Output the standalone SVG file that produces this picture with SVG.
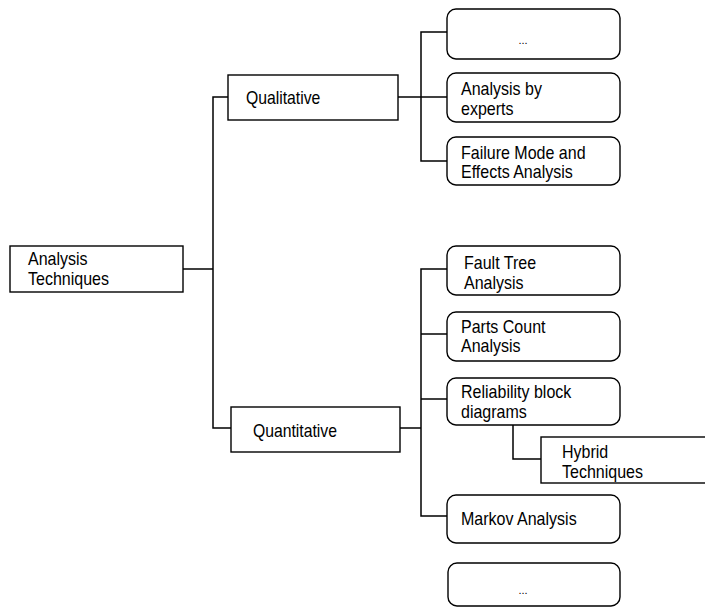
<svg xmlns="http://www.w3.org/2000/svg" width="705" height="608" viewBox="0 0 705 608">
  <style>
    .box { fill: #fff; stroke: #000; stroke-width: 1.4; }
    .wire { fill: none; stroke: #000; stroke-width: 1.5; }
    text { font-family: "Liberation Sans", Arial, sans-serif; font-size: 17.5px; fill: #000; }
    .dots { font-size: 11px; text-anchor: middle; }
  </style>
  <rect width="705" height="608" fill="#fff"/>

  <!-- tree connectors -->
  <g id="connectors" class="wire">
    <path d="M183 269 H213"/>
    <path d="M228 97 H213 V428 H231"/>
    <path d="M398 97 H447"/>
    <path d="M447 32 H421 V161 H447"/>
    <path d="M400 428 H421"/>
    <path d="M447 269 H421 V516 H447"/>
    <path d="M421 334 H447"/>
    <path d="M421 399 H447"/>
    <path d="M513 425 V459 H541"/>
  </g>

  <!-- labels use a slightly condensed face: translate to the baseline, then narrow -->
  <g id="root">
    <rect class="box" x="10" y="246" width="173" height="46"/>
    <text transform="translate(28 265) scale(0.915 1)">Analysis</text>
    <text transform="translate(28 285) scale(0.915 1)">Techniques</text>
  </g>

  <g id="qualitative">
    <rect class="box" x="228" y="75" width="170" height="45"/>
    <text transform="translate(246 104) scale(0.9 1)">Qualitative</text>
  </g>

  <g id="quantitative">
    <rect class="box" x="231" y="407" width="169" height="45"/>
    <text transform="translate(253 437) scale(0.9 1)">Quantitative</text>
  </g>

  <g id="qual-more">
    <rect class="box" x="447" y="9" width="173" height="50" rx="9"/>
    <text class="dots" x="523" y="44">...</text>
  </g>

  <g id="experts">
    <rect class="box" x="447" y="73" width="173" height="49" rx="9"/>
    <text transform="translate(461 95) scale(0.915 1)">Analysis by</text>
    <text transform="translate(461 115) scale(0.915 1)">experts</text>
  </g>

  <g id="fmea">
    <rect class="box" x="447" y="137" width="173" height="48" rx="9"/>
    <text transform="translate(461 159) scale(0.915 1)">Failure Mode and</text>
    <text transform="translate(461 178) scale(0.915 1)">Effects Analysis</text>
  </g>

  <g id="fta">
    <rect class="box" x="447" y="246" width="173" height="49" rx="9"/>
    <text transform="translate(464 269) scale(0.915 1)">Fault Tree</text>
    <text transform="translate(464 289) scale(0.915 1)">Analysis</text>
  </g>

  <g id="parts-count">
    <rect class="box" x="447" y="312" width="173" height="49" rx="9"/>
    <text transform="translate(461 333) scale(0.915 1)">Parts Count</text>
    <text transform="translate(461 352) scale(0.915 1)">Analysis</text>
  </g>

  <g id="rbd">
    <rect class="box" x="447" y="378" width="173" height="47" rx="9"/>
    <text transform="translate(461 398) scale(0.915 1)">Reliability block</text>
    <text transform="translate(461 418) scale(0.915 1)">diagrams</text>
  </g>

  <g id="hybrid">
    <rect class="box" x="541" y="437" width="180" height="46"/>
    <text transform="translate(562 458) scale(0.915 1)">Hybrid</text>
    <text transform="translate(562 478) scale(0.915 1)">Techniques</text>
  </g>

  <g id="markov">
    <rect class="box" x="447" y="495" width="173" height="48" rx="9"/>
    <text transform="translate(461 525) scale(0.915 1)">Markov Analysis</text>
  </g>

  <g id="quant-more">
    <rect class="box" x="448" y="563" width="172" height="43" rx="9"/>
    <text class="dots" x="523" y="594">...</text>
  </g>
</svg>
